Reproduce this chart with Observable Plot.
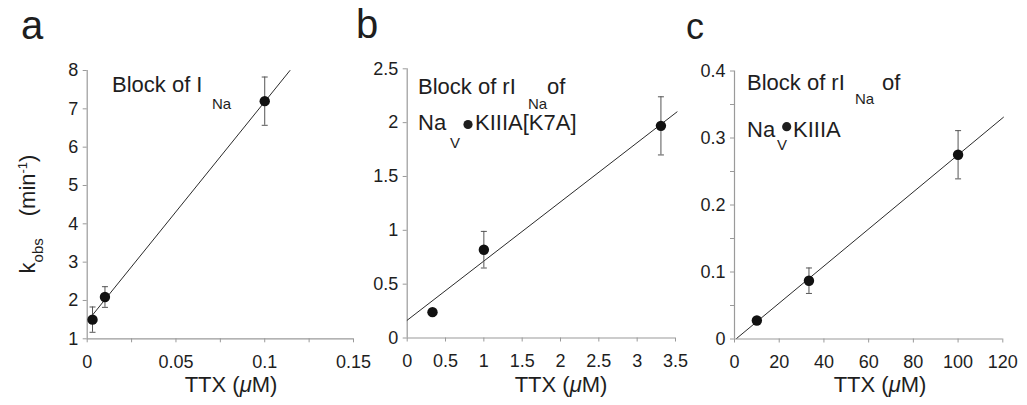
<!DOCTYPE html>
<html><head><meta charset="utf-8">
<script src="https://cdn.jsdelivr.net/npm/d3@7"></script>
<script src="https://cdn.jsdelivr.net/npm/@observablehq/plot@0.6"></script>
<style>
body{margin:0;background:#fff;}
#fig{position:relative;width:1027px;height:405px;overflow:hidden;background:#fff;font-family:"Liberation Sans",Arial,sans-serif;}
#fig svg{position:absolute;top:0;overflow:visible;}
</style></head><body><div id="fig"></div>
<script>
// ---------- Panel a: block of INa ----------
const aTTX = [0.003, 0.01, 0.1];
const aK = [1.50, 2.09, 7.20];
const aErr = [0.33, 0.27, 0.63];
const aFitX = [0.003, 0.1142];
const aFitY = [1.62, 8.0];
const aXTicks = [0, 0.025, 0.05, 0.075, 0.1, 0.125, 0.15];
const aXLabels = [0, 0.05, 0.1, 0.15];
const aYTicks = [1, 2, 3, 4, 5, 6, 7, 8];

// ---------- Panel b: NaV•KIIIA[K7A] ----------
const bTTX = [0.33, 1.0, 3.31];
const bK = [0.24, 0.82, 1.97];
const bErr = [0, 0.17, 0.27];
const bFitX = [0, 3.52];
const bFitY = [0.165, 2.10];
const bXTicks = [0, 0.5, 1, 1.5, 2, 2.5, 3, 3.5];
const bYTicks = [0, 0.5, 1, 1.5, 2, 2.5];

// ---------- Panel c: NaV•KIIIA ----------
const cTTX = [10, 33.3, 100];
const cK = [0.0276, 0.087, 0.275];
const cErr = [0, 0.019, 0.036];
const cFitX = [1, 120.3];
const cFitY = [0.001, 0.331];
const cXTicks = [0, 20, 40, 60, 80, 100, 120];
const cYTicks = [0, 0.05, 0.1, 0.15, 0.2, 0.25, 0.3, 0.35, 0.4];
const cYLabels = [0, 0.1, 0.2, 0.3, 0.4];

const FONT = '"Liberation Sans", Arial, sans-serif';
const AXIS = "#9a9a9a";
const INK = "#1e1e1e";
const fmt = d => String(d);
const capSymbol = {draw(ctx) { ctx.moveTo(-3, 0); ctx.lineTo(3, 0); }};

function makePanel(c) {
  const pts = c.x.map((x, i) => ({x, y: c.y[i], lo: c.y[i] - c.err[i], hi: c.y[i] + c.err[i], e: c.err[i]}));
  const errPts = pts.filter(d => d.e > 0);
  const fit = c.fitX.map((x, i) => ({x, y: c.fitY[i]}));
  const svg = Plot.plot({
    width: c.width, height: 405,
    marginTop: c.mt, marginBottom: c.mb, marginLeft: c.ml, marginRight: c.mr,
    x: {domain: c.xDomain}, y: {domain: c.yDomain},
    style: {fontFamily: FONT, fontSize: "18px", color: INK, background: "transparent", overflow: "visible"},
    marks: [
      Plot.ruleX([c.xDomain[0]], {stroke: AXIS, strokeWidth: 1.2}),
      Plot.ruleY([c.yDomain[0]], {stroke: AXIS, strokeWidth: 1.2}),
      Plot.axisX({ticks: c.xTicks, tickSize: 4, tickFormat: () => "", stroke: AXIS, label: null}),
      Plot.axisX({ticks: c.xLabels, tickSize: 0, tickPadding: 16, tickFormat: fmt, fill: INK, fontSize: 18, label: null}),
      Plot.axisY({ticks: c.yTicks, tickSize: 4, tickFormat: () => "", stroke: AXIS, label: null}),
      Plot.axisY({ticks: c.yLabels, tickSize: 0, tickPadding: 9, tickFormat: fmt, fill: INK, fontSize: 18, label: null}),
      Plot.line(fit, {x: "x", y: "y", stroke: "#2a2a2a", strokeWidth: 1}),
      Plot.ruleX(errPts, {x: "x", y1: "lo", y2: "hi", stroke: "#555", strokeWidth: 1}),
      Plot.dot(errPts, {x: "x", y: "hi", symbol: capSymbol, r: 3, stroke: "#555", strokeWidth: 1}),
      Plot.dot(errPts, {x: "x", y: "lo", symbol: capSymbol, r: 3, stroke: "#555", strokeWidth: 1}),
      Plot.dot(pts, {x: "x", y: "y", r: 5.2, fill: "#111", stroke: "none"})
    ]
  });
  svg.style.left = c.left + "px";
  return svg;
}

const fig = document.getElementById("fig");
fig.appendChild(makePanel({left: 0, width: 370, mt: 70, mb: 66.7, ml: 86.7, mr: 17,
  xDomain: [0, 0.15], yDomain: [1, 8], xTicks: aXTicks, xLabels: aXLabels, yTicks: aYTicks, yLabels: aYTicks,
  x: aTTX, y: aK, err: aErr, fitX: aFitX, fitY: aFitY}));
fig.appendChild(makePanel({left: 340, width: 350, mt: 68.3, mb: 67.5, ml: 66.7, mr: 15,
  xDomain: [0, 3.5], yDomain: [0, 2.5], xTicks: bXTicks, xLabels: bXTicks, yTicks: bYTicks, yLabels: bYTicks,
  x: bTTX, y: bK, err: bErr, fitX: bFitX, fitY: bFitY}));
fig.appendChild(makePanel({left: 680, width: 347, mt: 70.5, mb: 66.5, ml: 54, mr: 24.7,
  xDomain: [0, 120], yDomain: [0, 0.4], xTicks: cXTicks, xLabels: cXTicks, yTicks: cYTicks, yLabels: cYLabels,
  x: cTTX, y: cK, err: cErr, fitX: cFitX, fitY: cFitY}));

// ---------- text overlay: panel letters, axis titles, annotations ----------
const ov = d3.select(fig).append("svg").attr("width", 1027).attr("height", 405)
  .style("left", "0px").attr("font-family", FONT).attr("fill", INK);

function txt(x, y, s, size, anchor) {
  return ov.append("text").attr("x", x).attr("y", y).attr("font-size", size)
    .attr("text-anchor", anchor || "start").text(s);
}
// panel letters
txt(21, 39, "a", 40);
txt(356, 38, "b", 40);
txt(686, 39, "c", 36);

// x axis titles with italic mu
function xTitle(cx) {
  const t = ov.append("text").attr("x", cx).attr("y", 392).attr("font-size", 22).attr("text-anchor", "middle");
  t.append("tspan").text("TTX (");
  t.append("tspan").attr("font-style", "italic").text("\u03bc");
  t.append("tspan").text("M)");
}
xTitle(231); xTitle(561); xTitle(880);

// y axis title
{
  const t = ov.append("text").attr("transform", "translate(35,214) rotate(-90)")
    .attr("text-anchor", "middle").attr("font-size", 22);
  t.append("tspan").text("k");
  t.append("tspan").attr("font-size", 15).attr("dy", 8).text("obs");
  t.append("tspan").attr("dy", -8).text("\u2003(min");
  t.append("tspan").attr("font-size", 13).attr("dy", -8).text("-1");
  t.append("tspan").attr("dy", 8).text(")");
}

// annotations
txt(112, 91.5, "Block of I", 22);
txt(212, 109, "Na", 15);

txt(418, 94, "Block of rI", 22);
txt(528, 109, "Na", 15);
txt(547, 94, "of", 22);
txt(418, 130, "Na", 22);
txt(450, 148, "V", 15);
ov.append("circle").attr("cx", 468).attr("cy", 124.5).attr("r", 4.6);
txt(475, 130, "KIIIA[K7A]", 22);

txt(747, 90, "Block of rI", 22);
txt(855, 104, "Na", 15);
txt(882, 90, "of", 22);
txt(747, 136.7, "Na", 22);
txt(777, 150, "V", 15);
ov.append("circle").attr("cx", 786.7).attr("cy", 126.7).attr("r", 4.6);
txt(793, 136.7, "KIIIA", 22);
</script></body></html>
